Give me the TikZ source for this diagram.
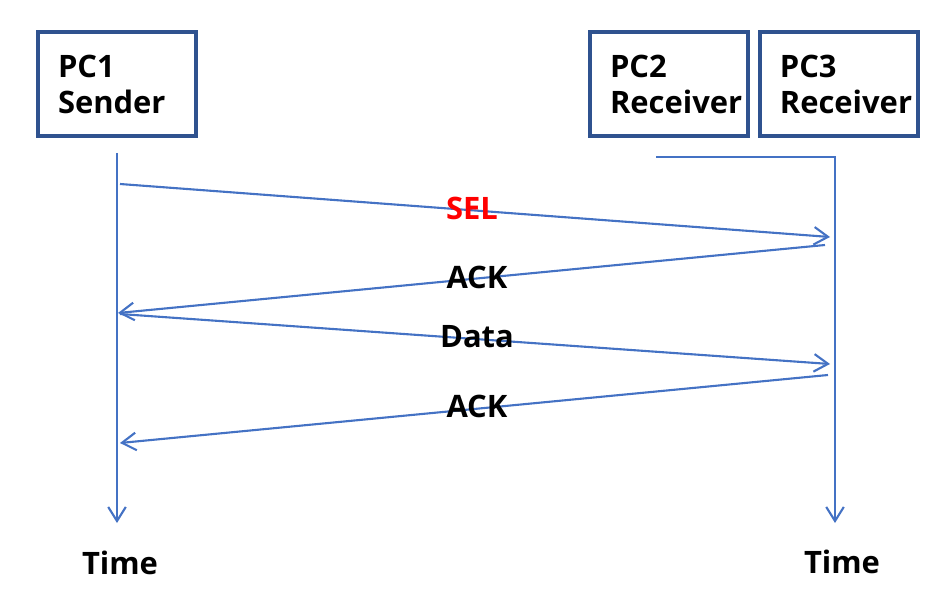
\documentclass[tikz,border=0pt]{standalone}
\usepackage{fontspec}
\setmainfont{Open Sans}
\usetikzlibrary{arrows.meta,positioning}
\definecolor{boxblue}{HTML}{2F528F}
\definecolor{lineblue}{HTML}{4472C4}
\definecolor{selred}{HTML}{FF0000}
\begin{document}
\begin{tikzpicture}[
x=0.02cm, y=-0.02cm,
every node/.style={font=\bfseries\fontsize{17.6}{20.5}\selectfont},
pcbox/.style={draw=boxblue, line width=2.2pt, align=left, text width=2.36cm, inner xsep=0.4cm, minimum height=2.08cm},
msg/.style={-{Straight Barb[length=8pt,width=10pt]}, draw=lineblue, line width=1.2pt},
msglabel/.style={inner sep=0pt}
]
\useasboundingbox (0,0) rectangle (945,604);

\node[pcbox] (sender) at (117,84) {PC1\\Sender};
\node[pcbox] (recv2) at (669,84) {PC2\\Receiver};
\node[pcbox] (recv3) [right=0.16cm of recv2] {PC3\\Receiver};

% lifelines
\coordinate (s-top) at (117,153);
\coordinate (s-end) at (117,523);
\coordinate (r-left) at (656,157);
\coordinate (r-top) at (835,157);
\coordinate (r-end) at (835,523);
\draw[msg] (s-top) -- (s-end);
\draw[msg] (r-left) -- (r-top) -- (r-end);

\node (time1) at (120,563) {Time};
\node (time3) at (842,562) {Time};

% messages
\coordinate (sel-a) at (120,184);
\coordinate (sel-b) at (830,237);
\coordinate (ack1-a) at (825,245);
\coordinate (ack1-b) at (118,313);
\coordinate (data-a) at (120,314);
\coordinate (data-b) at (830,364);
\coordinate (ack2-a) at (828,375);
\coordinate (ack2-b) at (120,443);
\draw[msg] (sel-a) -- (sel-b);
\draw[msg] (ack1-a) -- (ack1-b);
\draw[msg] (data-a) -- (data-b);
\draw[msg] (ack2-a) -- (ack2-b);

\node[msglabel, text=selred] (sel) at (472,208) {SEL};
\node[msglabel] (ack1) at (477,277) {ACK};
\node[msglabel] (data) at (477,337) {Data};
\node[msglabel] (ack2) at (477,406) {ACK};
\end{tikzpicture}
\end{document}
